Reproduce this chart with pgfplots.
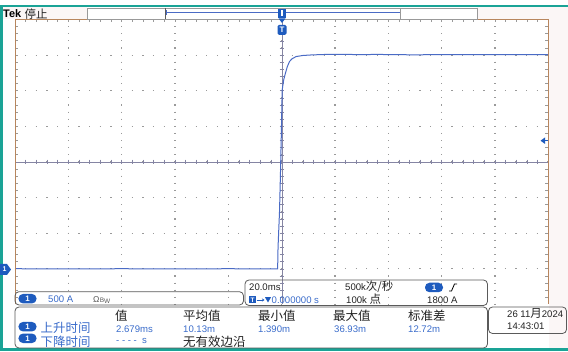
\documentclass[border=0pt]{standalone}
\usepackage{pgfplots}
\pgfplotsset{compat=1.18}
\usetikzlibrary{arrows.meta}
\usepackage{fontspec}
\setmainfont{Liberation Sans}
\newfontfamily\cjk{Noto Sans CJK SC}
\newfontfamily\dv{DejaVu Sans}
\definecolor{tekteal}{HTML}{1AA396}
\definecolor{trace}{HTML}{4A6BC5}
\definecolor{tblue}{HTML}{3A6CCB}
\definecolor{pill}{HTML}{1E5BBE}
\definecolor{bord}{HTML}{B8865E}
\definecolor{gridc}{HTML}{9A9A9A}
\definecolor{cen}{HTML}{8585A3}
\definecolor{boxg}{HTML}{5A5A5A}
\definecolor{pinkbg}{HTML}{FBF6F6}
\definecolor{txt}{HTML}{222222}
\newcommand\cjkf{\cjk\fontsize{12.5}{13}\selectfont}
\newcommand\cjks{\cjk\fontsize{11.5}{12}\selectfont}
\newcommand\latf{\fontsize{9.6}{10}\selectfont}
\begin{document}
\begin{tikzpicture}
\path[use as bounding box] (0,0) rectangle (568bp,352bp);
\begin{scope}[x=1bp,y=-1bp,yshift=352bp]
 \fill[white] (0,0) rectangle (568,352);
 \fill[pinkbg] (548.5,7) rectangle (568,348.5);
 \fill[pinkbg] (3,7) rectangle (87,19.5);
 \fill[pinkbg] (477,7) rectangle (568,19.5);
 % dotted graticule
 \foreach \k in {1,...,9} \draw[gridc, line width=1.2bp, dash pattern=on 1.2bp off 5.925bp, dash phase=0.6bp] ({15+\k*53.33},19.5) -- ({15+\k*53.33},304.5);
 \foreach \j in {1,...,7} \draw[gridc, line width=1.2bp, dash pattern=on 1.2bp off 9.46bp, dash phase=0.6bp] (15,{19.5+\j*35.625}) -- (548.3,{19.5+\j*35.625});
 % border ticks
 \foreach \i in {1,...,49} \draw[gridc, line width=0.8bp] ({15+\i*10.666},19.5) -- ({15+\i*10.666},22.5);
 \foreach \i in {1,...,39} {
   \draw[gridc, line width=0.8bp] (15,{19.5+\i*7.125}) -- (18,{19.5+\i*7.125});
   \draw[gridc, line width=0.8bp] (548.3,{19.5+\i*7.125}) -- (545.3,{19.5+\i*7.125});}
 % centre cross
 \draw[cen, line width=0.8bp] (15,162) -- (548,162);
 \draw[cen, line width=0.8bp] (282,19.5) -- (282,304.5);
 \foreach \i in {1,...,49} \draw[cen,line width=0.7bp] ({15+\i*10.666},159.6) -- ({15+\i*10.666},164.4);
 \foreach \i in {1,...,39} \draw[cen,line width=0.7bp] (279.6,{19.5+\i*7.125}) -- (284.4,{19.5+\i*7.125});
\end{scope}
\begin{axis}[at={(15bp,47.5bp)}, anchor=south west, scale only axis,
  width=533bp, height=285bp,
  xmin=-100, xmax=100, ymin=-500, ymax=3500,
  hide axis, clip=false]
\addplot[trace, line width=1bp] coordinates {
 (-100,2) (-80,0) (-60,2) (-40,0) (-20,2) (-1.45,0) (-1.3,300) (-0.75,800)
 (-0.4,1320) (-0.11,1810) (0.26,2510) (0.8,2650) (1.5,2750) (2.2,2840)
 (3.0,2910) (4.0,2950) (5.5,2980) (8,2995) (11,3002) (15,3008) (20,3012)
 (25,3010) (30,3006) (35,3010) (40,3008) (50,3004) (60,3008) (70,3006)
 (80,3008) (90,3007) (100,3008)};
\end{axis}
\begin{scope}[x=1bp,y=-1bp,yshift=352bp]
 % graticule border
 \draw[bord, line width=1bp] (15,304.5) -- (15,19.5) -- (548.3,19.5) -- (548.3,304.5);
 % teal frame
 \fill[tekteal] (0,4.8) rectangle (568,7);
 \fill[tekteal] (0,4.8) rectangle (2.6,350.6);
 \fill[tekteal] (0,348.3) rectangle (568,350.6);
 % top bar
 \node[anchor=base west, inner sep=0, font=\bfseries\fontsize{11}{11}\selectfont, text=black] at (3,18) {Tek};
 \node[anchor=base west, inner sep=0, font=\cjk\fontsize{11.5}{12}\selectfont, text=txt] at (24.5,18.5) {停止};
 \draw[gray!80, line width=0.7bp] (87,8) rectangle (477,19.5);
 \draw[boxg, line width=0.8bp] (165,8) -- (165,19.5);
 \draw[gray!80, line width=0.7bp] (400,8) -- (400,19.5);
 \draw[trace, line width=1bp] (166,13) -- (400,13);
 \draw[trace, line width=0.8bp] (166,10.5) -- (166,15.5);
 % trigger position marker
 \fill[pill] (278.2,9) rectangle (285.8,18);
 \draw[white, line width=1.2bp] (282,10.5) -- (282,16.5);
 \fill[pill] (278.5,18.3) -- (285.5,18.3) -- (282,23) -- cycle;
 \node[fill=pill, rounded corners=1.5bp, minimum width=9bp, minimum height=10bp, inner sep=0, text=white, font=\bfseries\fontsize{8}{8}\selectfont] at (282,30) {T};
 % ground marker
 \fill[pill] (0,264) -- (7,264) -- (11,269.5) -- (7,275) -- (0,275) -- cycle;
 \node[inner sep=0, text=white, font=\bfseries\fontsize{7}{7}\selectfont] at (4.5,269.5) {1};
 % trigger level arrow
 \fill[pill] (540.5,140.7) -- (545,137.5) -- (545,143.9) -- cycle;
 \draw[pill, line width=1.2bp] (544,140.7) -- (548,140.7);
 % bottom boxes
 \draw[boxg, line width=0.8bp, rounded corners=4bp] (15,291.7) rectangle (243.5,305);
 \draw[boxg, line width=0.8bp, rounded corners=4bp] (245,280) rectangle (487.5,305.5);
 \draw[boxg, line width=0.8bp, rounded corners=4bp] (15,307) rectangle (487.5,348);
 \draw[boxg, line width=0.8bp, rounded corners=4bp] (488.5,307) rectangle (566.5,333.5);
 \tikzset{pillnode/.style={fill=pill, rounded corners=4.5bp, minimum width=18bp, minimum height=9.5bp, inner sep=0, text=white, font=\bfseries\fontsize{8}{8}\selectfont},
          t/.style={anchor=base west, inner sep=0}}
 % box 1
 \node[pillnode] at (27.5,298.7) {1};
 \node[t, text=tblue, font=\latf] at (48,303) {500 A};
 \node[t, text=boxg, font=\fontsize{8.5}{9}\selectfont] at (93,302.5) {Ω\kern0.3bp{\fontsize{6.5}{7}\selectfont B\raisebox{-1.5bp}{W}}};
 % box 2
 \node[t, text=txt, font=\latf] at (249,290.7) {20.0ms};
 \node[fill=pill, minimum width=7bp, minimum height=7bp, inner sep=0, text=white, font=\bfseries\fontsize{6.5}{6.5}\selectfont] at (252.5,300) {T};
 \draw[pill, line width=0.9bp, -{Stealth[length=2.5bp,width=3bp]}] (256.5,300) -- (264.5,300);
 \fill[pill] (265,297.2) -- (271,297.2) -- (268,302.5) -- cycle;
 \node[t, text=tblue, font=\latf] at (271.5,303.3) {0.000000 s};
 \node[t, text=txt, font=\latf] at (345,290.7) {500k{\cjks 次/秒}};
 \node[t, text=txt, font=\latf] at (346,303.5) {100k {\cjks 点}};
 \node[pillnode] at (434,287.5) {1};
 \draw[black, line width=0.8bp] (449,291) -- (451.5,291) -- (454.5,284) -- (457,284);
 \node[t, text=txt, font=\latf] at (427,303.5) {1800 A};
 % box 3 header
 \node[t, text=txt, font=\cjkf] at (115,321) {值};
 \node[t, text=txt, font=\cjkf] at (183,321) {平均值};
 \node[t, text=txt, font=\cjkf] at (258,321) {最小值};
 \node[t, text=txt, font=\cjkf] at (333,321) {最大值};
 \node[t, text=txt, font=\cjkf] at (408,321) {标准差};
 % row 1
 \node[pillnode] at (27.5,326.7) {1};
 \node[t, text=tblue, font=\cjkf] at (40.5,333) {上升时间};
 \node[t, text=tblue, font=\latf] at (116,332.7) {2.679ms};
 \node[t, text=tblue, font=\latf] at (183,332.7) {10.13m};
 \node[t, text=tblue, font=\latf] at (258,332.7) {1.390m};
 \node[t, text=tblue, font=\latf] at (334,332.7) {36.93m};
 \node[t, text=tblue, font=\latf] at (408,332.7) {12.72m};
 % row 2
 \node[pillnode] at (27.5,338.3) {1};
 \node[t, text=tblue, font=\cjkf] at (40.5,346.5) {下降时间};
 \node[t, text=tblue, font=\latf] at (116,344) {- - - -\ \ s};
 \node[t, text=txt, font=\cjkf] at (183,346.5) {无有效边沿};
 % box 4
 \node[t, text=txt, font=\latf] at (507,317.5) {26 11{\cjks 月}2024};
 \node[t, text=txt, font=\latf] at (507,330) {14:43:01};
\end{scope}
\end{tikzpicture}
\end{document}
